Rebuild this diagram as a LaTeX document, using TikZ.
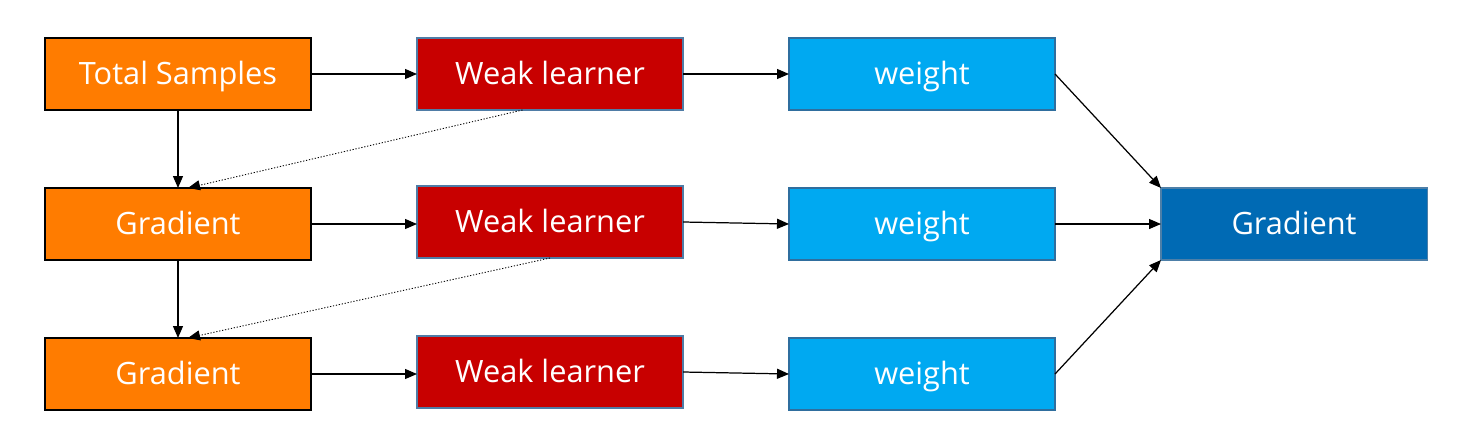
\documentclass[tikz,border=0pt]{standalone}
\usepackage{fontspec}
\setmainfont{Open Sans}
\usetikzlibrary{positioning,arrows.meta}
\definecolor{sampleorange}{HTML}{FF7C00}
\definecolor{learnerred}{HTML}{C80000}
\definecolor{learnerframe}{HTML}{4F7CA6}
\definecolor{weightblue}{HTML}{00A9F1}
\definecolor{weightframe}{HTML}{2F6E9E}
\definecolor{gradblue}{HTML}{006AB4}
\definecolor{gradframe}{HTML}{4D7FA8}
\begin{document}
\begin{tikzpicture}[
node distance = 1.56cm and 2.12cm,
  box/.style = {rectangle, draw, line width=0.8pt,% common look of all boxes
                minimum width=5.32cm, minimum height=1.44cm,
                text=white, font=\fontsize{17.5}{20}\selectfont,
                text height=16pt, text depth=3.5pt,
                inner sep=0pt, outer sep=0pt},
    S/.style = {box, fill=sampleorange, draw=black},  % samples and gradients
    L/.style = {box, fill=learnerred, draw=learnerframe, line width=0.6pt},
    V/.style = {box, fill=weightblue, draw=weightframe, line width=0.6pt},
    G/.style = {box, fill=gradblue, draw=gradframe, line width=0.6pt},
    A/.style = {-{Triangle[length=2.4mm,width=2mm]}, line width=0.7pt},
    D/.style = {A, densely dotted, line width=0.5pt},
                        ]
\useasboundingbox (0,0) rectangle (29.34,8.82);

% left column
\node[S] (t1) at (3.56,7.34) {Total Samples};
\node[S, below=of t1] (g1) {Gradient};
\node[S, below=of g1] (g2) {Gradient};
% weak learners
\node[L, right=of t1] (w1) {Weak learner};
\node[L, right=of g1, yshift=0.04cm] (w2) {Weak learner};
\node[L, right=of g2, yshift=0.04cm] (w3) {Weak learner};
% weights
\node[V, right=of t1.east -| w1.east] (v1) {weight};
\node[V, right=of g1.east -| w2.east] (v2) {weight};
\node[V, right=of g2.east -| w3.east] (v3) {weight};
% result
\node[G, right=of v2] (r) {Gradient};

\draw[A] (t1) -- (w1);
\draw[A] (g1.east) -- (g1.east -| w2.west);
\draw[A] (g2.east) -- (g2.east -| w3.west);
\draw[A] (w1) -- (v1);
\draw[A] (w2.east) -- (v2.west);
\draw[A] (w3.east) -- (v3.west);
\draw[A] (t1) -- (g1);
\draw[A] (g1) -- (g2);
\draw[D] ([xshift=-0.55cm]w1.south) -- ([xshift=0.2cm]g1.north);
\draw[D] (w2.south) -- ([xshift=0.2cm]g2.north);
\draw[A] (v1.east) -- (r.north west);
\draw[A] (v2) -- (r);
\draw[A] (v3.east) -- (r.south west);

\end{tikzpicture}
\end{document}
